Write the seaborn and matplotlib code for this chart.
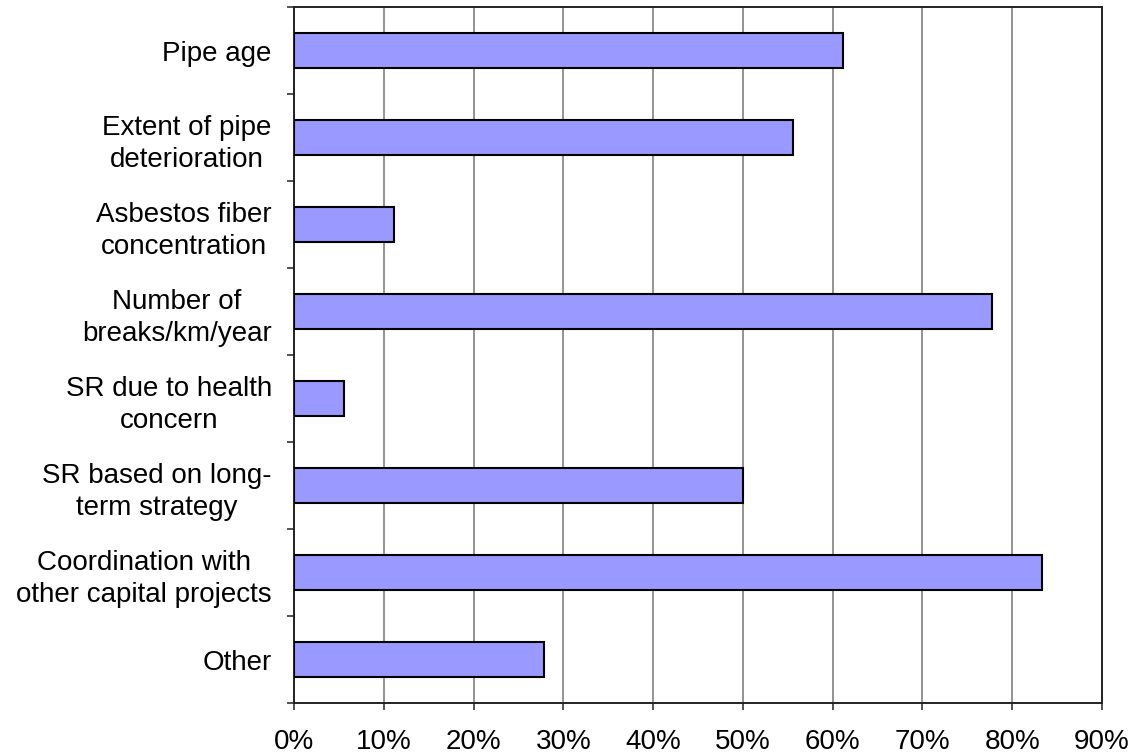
import matplotlib
matplotlib.use("Agg")
import matplotlib.pyplot as plt
from matplotlib.ticker import MultipleLocator, PercentFormatter
import seaborn as sns
import pandas as pd

categories = [
    "Pipe age",
    "Extent of pipe\ndeterioration",
    "Asbestos fiber\nconcentration",
    "Number of\nbreaks/km/year",
    "SR due to health\nconcern",
    "SR based on long-\nterm strategy",
    "Coordination with\nother capital projects",
    "Other",
]
shares = [61.1, 55.6, 11.1, 77.8, 5.6, 50.0, 83.3, 27.8]

df = pd.DataFrame({"category": categories, "share": shares})

sns.set_theme(style="white")
plt.rcParams["font.family"] = ["Liberation Sans", "DejaVu Sans"]

fig = plt.figure(figsize=(11.36, 7.54), dpi=100)
ax = fig.add_axes([0.2588, 0.0676, 0.9701 - 0.2588, 0.9907 - 0.0676])

sns.barplot(data=df, x="share", y="category", orient="h", ax=ax,
            color="#9999FF", saturation=1, width=0.41,
            edgecolor="black", linewidth=1.5, zorder=3)

ax.set_xlim(0, 90)
ax.set_ylim(len(categories) - 0.5, -0.5)
ax.xaxis.set_major_locator(MultipleLocator(10))
ax.xaxis.set_major_formatter(PercentFormatter(decimals=0))
ax.grid(axis="x", color="#808080", linewidth=1.2, zorder=0)
ax.grid(axis="y", visible=False)
ax.set_axisbelow(True)

# category labels centred in their bands, tick marks on the band edges
ax.set_yticks(range(len(categories)))
ax.set_yticklabels(categories, multialignment="center", linespacing=1.34)
ax.set_yticks([i - 0.5 for i in range(len(categories) + 1)], minor=True)
ax.tick_params(axis="y", which="major", length=0, pad=16, labelsize=20)
ax.tick_params(axis="y", which="minor", length=5, width=1.2, color="#333333", left=True)
ax.tick_params(axis="x", which="major", length=5, width=1.2, color="#333333",
               bottom=True, pad=14, labelsize=20)

for s in ax.spines.values():
    s.set_visible(True)
    s.set_color("#222222")
    s.set_linewidth(1.4)

ax.set_xlabel("")
ax.set_ylabel("")
for lbl in ax.get_xticklabels() + ax.get_yticklabels():
    lbl.set_color("black")

fig.savefig("out.png", dpi=100, facecolor="white")
